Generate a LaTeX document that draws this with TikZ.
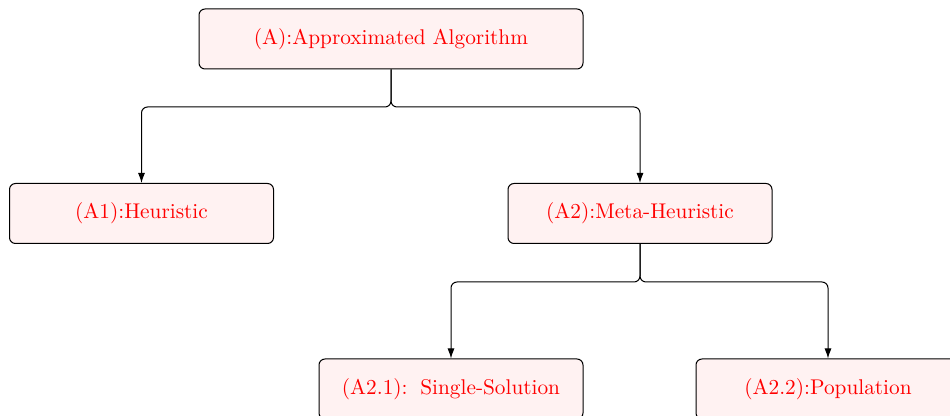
\documentclass[tikz,border=0pt]{standalone}
\usetikzlibrary{arrows.meta}
\begin{document}
\begin{tikzpicture}[x=0.5pt,y=-0.5pt,
  box/.style={draw=black, line width=0.5pt, rounded corners=3pt, fill=red!5, text=red,
    minimum height=30pt, inner sep=0pt, font=\fontsize{10.65}{13}\selectfont},
  wide/.style={box, minimum width=192pt},
  normal/.style={box, minimum width=132pt},
  link/.style={draw=black, line width=0.5pt, rounded corners=3pt, -{Latex[length=5pt,width=3.5pt]}}]
\useasboundingbox (0,0) rectangle (950,416);
\node[wide]   (A)   at (391,39)    {(A):Approximated Algorithm};
\node[normal] (A1)  at (141.5,213.5) {(A1):Heuristic};
\node[normal] (A2)  at (640,213.5) {(A2):Meta-Heuristic};
\node[normal] (A21) at (451,389)   {(A2.1):\hspace{0.6em}Single-Solution};
\node[normal] (A22) at (828,389)   {(A2.2):Population};
\coordinate (sA) at (391,107);
\coordinate (sB) at (640,282);
\draw[link] (A.south) -- (sA) -| (A1.north);
\draw[link] (A.south) -- (sA) -| (A2.north);
\draw[link] (A2.south) -- (sB) -| (A21.north);
\draw[link] (A2.south) -- (sB) -| (A22.north);
\end{tikzpicture}
\end{document}
